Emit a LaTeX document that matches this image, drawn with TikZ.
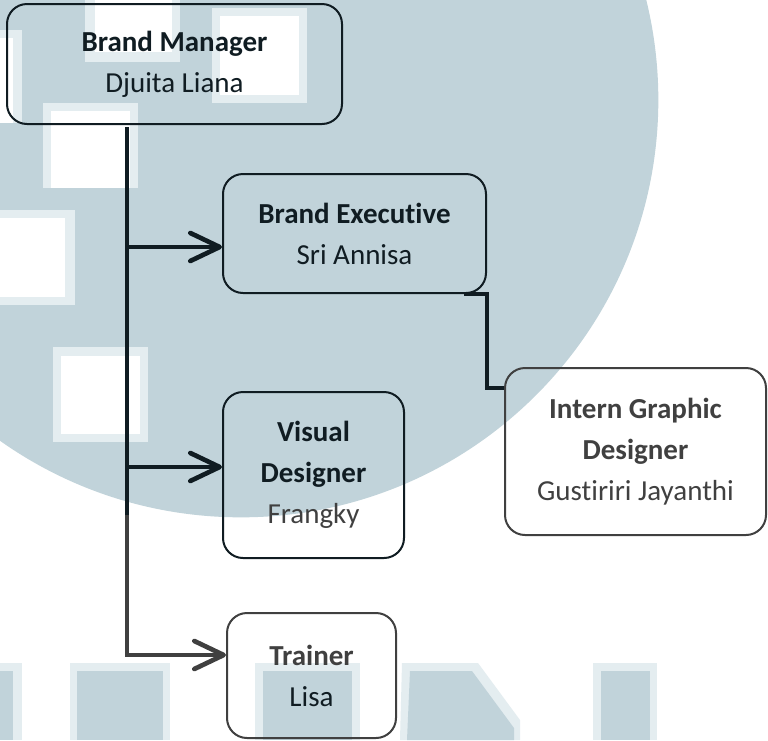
\documentclass[tikz,border=0pt]{standalone}
\usepackage{fontspec}
\setmainfont{Carlito}[Ligatures={NoCommon,NoContextual}]
\usetikzlibrary{arrows.meta}
\definecolor{wm}{RGB}{193,211,218}
\definecolor{wmpale}{RGB}{228,237,240}
\definecolor{dk}{RGB}{16,28,34}
\definecolor{gy}{RGB}{64,64,64}
\begin{document}
\begin{tikzpicture}[x=0.75pt,y=-0.75pt,
  box/.style={draw, line width=1.5pt, rounded corners=15pt, align=center, inner sep=0pt,
    font=\fontsize{21.75pt}{30.75pt}\selectfont},
  link/.style={line width=3.5pt, line join=miter},
  tipped/.style={-{Straight Barb[length=22pt,width=21pt,round]}},
  pale/.style={fill=wmpale},
  blank/.style={fill=white},
  blue/.style={fill=wm}
]
\useasboundingbox (0,0) rectangle (768,740);
\fill[white] (0,0) rectangle (768,740);
% watermark
\begin{scope}
  \clip (0,0) rectangle (768,740);
  \fill[wm] (241,100) circle[radius=313pt];
  \path[pale] (85,0) rectangle (180,62);   \path[blank] (95,0) rectangle (172,52);
  \path[pale] (212,8) rectangle (307,103); \path[blank] (220,16) rectangle (299,95);
  \path[pale] (43,103) rectangle (138,188);\path[blank] (51,111) rectangle (130,188);
  \path[pale] (0,210) rectangle (75,305);  \path[blank] (0,218) rectangle (65,297);
  \path[pale] (0,30) rectangle (22,123);   \path[blank] (0,38) rectangle (13,123);
  \path[pale] (53,347) rectangle (148,442);\path[blank] (61,356) rectangle (140,434);
  % bottom shapes
  \path[pale] (0,663) rectangle (22,740);  \path[blue] (0,671) rectangle (13,740);
  \path[pale] (70,663) rectangle (170,740);\path[blue] (77,671) rectangle (163,740);
  \path[pale] (255,663) rectangle (360,740);\path[blue] (263,671) rectangle (352,740);
  \path[pale] (402,663) -- (478,663) -- (520,720) -- (520,740) -- (400,740) -- cycle;
  \path[blue] (410,671) -- (472,671) -- (514,728) -- (514,740) -- (407,740) -- cycle;
  \path[pale] (593,663) rectangle (657,740);\path[blue] (601,671) rectangle (650,740);
\end{scope}

% nodes
\node[box, draw=dk, text=dk, minimum width=251.25pt, minimum height=90pt] (bm) at (174.5,64)
  {\textbf{Brand Manager}\\Djuita Liana};
\node[box, draw=dk, text=dk, minimum width=197.25pt, minimum height=89.25pt] (be) at (354.5,233.5)
  {\textbf{Brand Executive}\\Sri Annisa};
\node[box, draw=gy, text=gy, minimum width=195.75pt, minimum height=125.25pt] (ig) at (635.5,451.5)
  {\textbf{Intern Graphic}\\\textbf{Designer}\\Gustiriri Jayanthi};
\node[box, draw=dk, text=dk, minimum width=135.75pt, minimum height=124.5pt] (vd) at (313.5,475)
  {\textbf{Visual}\\\textbf{Designer}\\\textcolor{gy}{Frangky}};
\node[box, draw=gy, text=gy, minimum width=126.75pt, minimum height=93.75pt] (tr) at (311.5,675.5)
  {\textbf{Trainer}\\\textcolor{dk}{Lisa}};

% connectors
\coordinate (trunk) at (127,127);
\coordinate (mid) at (127,515);
\coordinate (jbe) at (127,247);
\coordinate (jvd) at (127,467);
\coordinate (jtr) at (127,655);
\coordinate (knee) at (487,388);

\draw[link, dk] (trunk) -- (mid);
\draw[link, gy, tipped] (mid) -- (jtr) -- (tr.west |- jtr);
\draw[link, dk, tipped] (jbe) -- (be.west |- jbe);
\draw[link, dk, tipped] (jvd) -- (vd.west |- jvd);
\draw[link, dk, line width=3pt] ([xshift=-17.25pt]be.south east) -- (be.south east)
  -- (be.south east |- knee) -- (ig.west |- knee);
\end{tikzpicture}
\end{document}
